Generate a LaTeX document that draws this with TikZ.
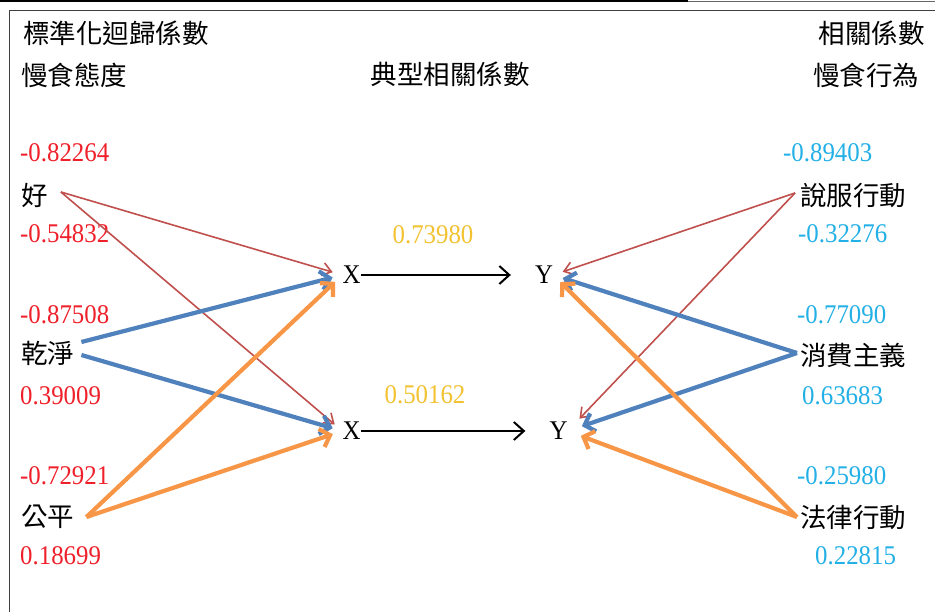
\documentclass[tikz,border=0pt]{standalone}
\usepackage{fontspec}
\setmainfont{Liberation Serif}[FakeStretch=0.92]
\newfontfamily\cjk{Noto Sans CJK TC}
\usepackage{xcolor}
\usetikzlibrary{arrows.meta}
\definecolor{coefred}{HTML}{F0202A}
\definecolor{corrblue}{HTML}{22B0E6}
\definecolor{canonyellow}{HTML}{F2C230}
\definecolor{lineRed}{HTML}{C0504D}
\definecolor{lineBlue}{HTML}{4F81BD}
\definecolor{lineOrange}{HTML}{F79646}

\begin{document}
\begin{tikzpicture}[x=1pt,y=-1pt,
    zh/.style={font=\cjk\fontsize{26.5}{30}\selectfont, inner sep=0pt, anchor=west},
    leftcoef/.style={font=\fontsize{27}{30}\selectfont, inner sep=0pt, anchor=west, text=coefred},
    rightcoef/.style={font=\fontsize{27}{30}\selectfont, inner sep=0pt, anchor=west, text=corrblue},
    canon/.style={font=\fontsize{27}{30}\selectfont, inner sep=0pt, text=canonyellow},
    var/.style={font=\fontsize{27}{30}\selectfont, inner sep=0pt},
    redline/.style={draw=lineRed, line width=1.6pt, -{Straight Barb[length=9pt,width=13pt]}},
    blueline/.style={draw=lineBlue, line width=4.2pt, -{Straight Barb[length=9pt,width=19pt]}},
    orangeline/.style={draw=lineOrange, line width=4.2pt, -{Straight Barb[length=9pt,width=19pt]}},
    canonline/.style={draw=black, line width=2pt, -{Straight Barb[length=10pt,width=18pt]}, shorten >=24pt}]

    \useasboundingbox (0,0) rectangle (935,612);
    \fill[white] (0,0) rectangle (935,612);

    % frame lines of the page
    \fill[black] (0,0) rectangle (688,2.5);
    \draw[line width=1pt, black!60] (688,2) -- (935,2);
    \draw[line width=1pt, black!75] (9,11) -- (935,11);
    \draw[line width=1pt, black!75] (9,11) -- (9,612);

    % headings
    \node[zh] (lefttitle) at (23,33) {標準化迴歸係數};
    \node[zh] (leftset) at (21,75) {慢食態度};
    \node[zh, anchor=center] (midtitle) at (450,74) {典型相關係數};
    \node[zh, anchor=east] (righttitle) at (925,33) {相關係數};
    \node[zh] (rightset) at (813,75) {慢食行為};

    % attitude items with their weights
    \node[leftcoef] (good1) at (20,153) {-0.82264};
    \node[zh] (good) at (21,195) {好};
    \node[leftcoef] (good2) at (20,234) {-0.54832};
    \node[leftcoef] (clean1) at (20,315) {-0.87508};
    \node[zh] (clean) at (21,353) {乾淨};
    \node[leftcoef] (clean2) at (20,396) {0.39009};
    \node[leftcoef] (fair1) at (20,476) {-0.72921};
    \node[zh] (fair) at (21,517) {公平};
    \node[leftcoef] (fair2) at (20,556) {0.18699};

    % behaviour items with their loadings
    \node[rightcoef] (persuade1) at (783,153) {-0.89403};
    \node[zh] (persuade) at (800,195) {說服行動};
    \node[rightcoef] (persuade2) at (798,234) {-0.32276};
    \node[rightcoef] (consume1) at (797,315) {-0.77090};
    \node[zh] (consume) at (800,355) {消費主義};
    \node[rightcoef] (consume2) at (802,396) {0.63683};
    \node[rightcoef] (legal1) at (797,476) {-0.25980};
    \node[zh] (legal) at (800,517) {法律行動};
    \node[rightcoef] (legal2) at (815,556) {0.22815};

    % canonical variates
    \node[var] (x1) at (351.5,275) {X};
    \node[var] (y1) at (544,275) {Y};
    \node[var] (x2) at (351.5,431) {X};
    \node[var] (y2) at (558.5,431) {Y};
    \node[canon] (r1) at (433,235) {0.73980};
    \node[canon] (r2) at (425,395) {0.50162};
    \draw[canonline] (x1.east) -- (y1.west);
    \draw[canonline] (x2.east) -- (y2.west);

    % left side arrows into X
    \draw[redline, shorten >=10pt] ([xshift=13pt,yshift=3pt]good.east) -- (x1.west);
    \draw[redline, shorten >=10pt] ([xshift=13pt,yshift=3pt]good.east) -- (x2.west);
    \draw[blueline, shorten >=10pt] ([xshift=7pt,yshift=11pt]clean.east) -- (x1.west);
    \draw[blueline, shorten >=10pt] ([xshift=7pt,yshift=-2pt]clean.east) -- (x2.west);
    \draw[orangeline, shorten >=10pt] ([xshift=12pt]fair.east) -- (x1.west);
    \draw[orangeline, shorten >=10pt] ([xshift=12pt]fair.east) -- (x2.west);

    % right side arrows into Y
    \draw[redline, shorten >=10pt] ([xshift=-5pt,yshift=2pt]persuade.west) -- (y1.east);
    \draw[redline, shorten >=17pt] ([xshift=-5pt,yshift=2pt]persuade.west) -- (y2.east);
    \draw[blueline, shorten >=10pt] ([xshift=-3pt,yshift=2pt]consume.west) -- (y1.east);
    \draw[blueline, shorten >=15pt] ([xshift=-3pt,yshift=2pt]consume.west) -- (y2.east);
    \draw[orangeline, shorten >=10pt] ([xshift=-3pt]legal.west) -- (y1.east);
    \draw[orangeline, shorten >=14pt] ([xshift=-3pt]legal.west) -- (y2.east);
\end{tikzpicture}
\end{document}
